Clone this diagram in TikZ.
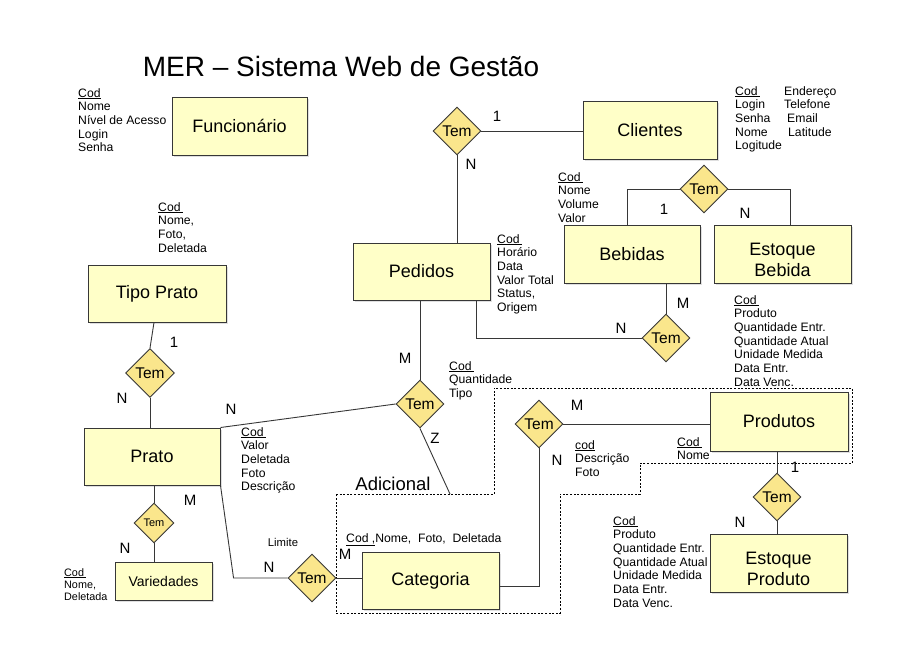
\documentclass[tikz,border=0pt]{standalone}
\usepackage{fontspec}
\setmainfont{Liberation Sans}
\usetikzlibrary{shapes.geometric,shadows}
\definecolor{boxfill}{RGB}{255,255,200}
\definecolor{diafill}{RGB}{250,230,140}
\definecolor{edgec}{RGB}{55,55,55}
\tikzset{
  ent/.style={draw=edgec, line width=1pt, fill=boxfill, minimum width=137pt, minimum height=58pt,
    inner sep=0pt, font=\fontsize{18}{20}\selectfont, align=center,
    drop shadow={shadow xshift=1.5pt, shadow yshift=-1.5pt, opacity=0.25}},
  rel/.style={diamond, aspect=1, draw=edgec, line width=0.9pt, fill=diafill, minimum width=48pt,
    minimum height=48pt, inner sep=0pt, font=\fontsize{15.5}{15.5}\selectfont},
  attr/.style={anchor=north west, inner sep=0pt, align=left, font=\fontsize{12.2}{13.7}\selectfont},
  card/.style={inner sep=0pt, font=\fontsize{15}{15}\selectfont},
  conn/.style={draw=edgec, line width=0.9pt},
  dashreg/.style={draw=black, line width=0.8pt, dash pattern=on 2pt off 1.6pt}
}
\begin{document}
\begin{tikzpicture}[x=1pt,y=-1pt]
\useasboundingbox (0,0) rectangle (904,661);
\fill[white] (0,0) rectangle (904,661);

% title
\node[inner sep=0pt, font=\fontsize{28}{30}\selectfont] (title) at (341,66) {MER – Sistema Web de Gestão};

% dashed region
\draw[dashreg] (336,494) -- (494,494) -- (494,388) -- (852,388) -- (852,463) -- (640,463) -- (640,494)
  -- (560,494) -- (560,613) -- (336,613) -- cycle;

% entities
\node[ent, minimum width=135pt] (func) at (239.5,126) {Funcionário};
\node[ent, minimum width=134pt] (cli) at (650,130) {Clientes};
\node[ent, minimum height=57pt] (ped) at (421.5,271.5) {Pedidos};
\node[ent, minimum width=136pt] (beb) at (632,254) {Bebidas};
\node[ent, label={[yshift=-6pt, font=\fontsize{18}{21}\selectfont, align=center]center:Estoque\\Bebida}] (estb) at (782.5,254) {};
\node[ent, minimum width=138pt, minimum height=57pt] (tipo) at (157,293.5) {Tipo Prato};
\node[ent, minimum width=136pt, minimum height=57pt] (prato) at (152,456.5) {Prato};
\node[ent, minimum width=97pt, minimum height=38pt, font=\fontsize{14}{14}\selectfont] (var) at (163.5,581) {Variedades};
\node[ent, minimum height=57pt] (cat) at (430.5,580.5) {Categoria};
\node[ent, minimum width=138pt, minimum height=59pt] (prod) at (779,421.5) {Produtos};
\node[ent, label={[yshift=-6pt, font=\fontsize{18}{21}\selectfont, align=center]center:Estoque\\Produto}] (estp) at (778.5,563) {};

% relationships
\node[rel] (t1) at (457,131) {Tem};
\node[rel] (t2) at (704,189) {Tem};
\node[rel] (t3) at (666,338) {Tem};
\node[rel, minimum width=49pt, minimum height=49pt] (t4) at (150,373) {Tem};
\node[rel] (t5) at (420,404) {Tem};
\node[rel] (t6) at (539,424) {Tem};
\node[rel] (t7) at (777,497) {Tem};
\node[rel] (t8) at (312,578) {Tem};
\node[rel, minimum width=40pt, minimum height=40pt, font=\fontsize{11}{11}\selectfont] (t9) at (154,523) {Tem};

% connectors
\draw[conn] (t1.east) -- (t1.east -| cli.west);
\draw[conn] (t1.south) -- (t1.south |- ped.north);
\draw[conn] (t2.west) -| ([xshift=-5pt]beb.north);
\draw[conn] (t2.east) -| ([xshift=7.5pt]estb.north);
\draw[conn] (t3.north) -- (t3.north |- beb.south);
\draw[conn] ([xshift=55pt]ped.south) |- (t3.west);
\draw[conn] ([xshift=-3pt]tipo.south) -- (t4.north);
\draw[conn] (t4.south) -- (t4.south |- prato.north);
\draw[conn] (prato.north east) -- (t5.west);
\draw[conn] (t5.north |- ped.south) -- (t5.north);
\coordinate (adic) at (450,494);
\draw[conn] (t5.south) -- (adic);
\draw[conn] (t6.east) -- (t6.east -| prod.west);
\draw[conn] (t6.south) |- ([yshift=-6pt]cat.east);
\draw[conn] (t7.north |- prod.south) -- (t7.north);
\draw[conn] (t7.south) -- (t7.south |- estp.north);
\draw[conn] (t9.north |- prato.south) -- (t9.north);
\draw[conn] (t9.south) -- (t9.south |- var.north);
\draw[conn] (prato.south east) -- ([xshift=-54pt]t8.west) -- (t8.west);
\draw[conn] (t8.east) -- (t8.east -| cat.west);

% attributes
\node[attr] (afunc) at (78,88) {\underline{Cod}\\Nome\\Nível de Acesso\\Login\\Senha};
\node[attr] (acli1) at (735,86) {\underline{Cod\,}\\Login\\Senha\\Nome\\Logitude};
\node[attr] (acli2) at (784,86) {Endereço\\Telefone\\\hspace*{3pt}Email\\\hspace*{4pt}Latitude};
\node[attr] (abeb) at (558,172) {\underline{Cod\,}\\Nome\\Volume\\Valor};
\node[attr] (aped) at (497,234) {\underline{Cod\,}\\Horário\\Data\\Valor Total\\Status,\\Origem};
\node[attr] (aestb) at (734,295) {\underline{Cod\,}\\Produto\\Quantidade Entr.\\Quantidade Atual\\Unidade Medida\\Data Entr.\\Data Venc.};
\node[attr] (atipo) at (158,202) {\underline{Cod\,}\\Nome,\\Foto,\\Deletada};
\node[attr] (aprato) at (241,427) {\underline{Cod\,}\\Valor\\Deletada\\Foto\\Descrição};
\node[attr] (at5) at (449,361) {\underline{Cod\,}\\Quantidade\\Tipo};
\node[attr] (at6) at (575,440) {\underline{cod}\\Descrição\\Foto};
\node[attr] (aprod) at (677,437) {\underline{Cod\,}\\Nome};
\node[attr] (aestp) at (613,516) {\underline{Cod\,}\\Produto\\Quantidade Entr.\\Quantidade Atual\\Unidade Medida\\Data Entr.\\Data Venc.};
\node[attr, font=\fontsize{10.8}{12}\selectfont] (avar) at (64,568) {\underline{Cod\,}\\Nome,\\Deletada};
\node[attr] (acat) at (346,533) {\underline{Cod ,}Nome,\ \ Foto,\ \ Deletada};

% cardinalities and labels
\node[card] (c1) at (497,116) {1};
\node[card] (c2) at (471,164) {N};
\node[card] (c3) at (664,209) {1};
\node[card] (c4) at (745,213) {N};
\node[card] (c5) at (683,303) {M};
\node[card] (c6) at (621,328) {N};
\node[card] (c7) at (174,342) {1};
\node[card] (c8) at (122,398) {N};
\node[card] (c9) at (231,409) {N};
\node[card] (c10) at (405,358) {M};
\node[card] (c11) at (435,438) {Z};
\node[card] (c12) at (577,405) {M};
\node[card] (c13) at (557,460) {N};
\node[card] (c14) at (795,467) {1};
\node[card] (c15) at (740,522) {N};
\node[card] (c16) at (190,500) {M};
\node[card] (c17) at (125,548) {N};
\node[card] (c18) at (269,567) {N};
\node[card] (c19) at (345,554) {M};
\node[inner sep=0pt, font=\fontsize{11.3}{12}\selectfont] (limite) at (283,542) {Limite};
\node[inner sep=0pt, font=\fontsize{18.5}{20}\selectfont] (adlabel) at (393,484) {Adicional};
\end{tikzpicture}
\end{document}
